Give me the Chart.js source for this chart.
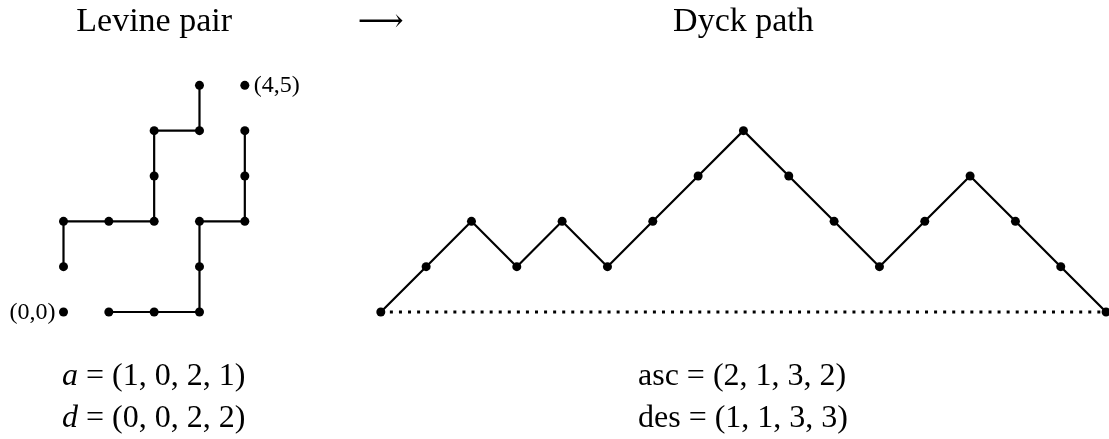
<!DOCTYPE html>
<html>
<head>
<meta charset="utf-8">
<script src="https://cdn.jsdelivr.net/npm/chart.js@4"></script>
<style>
  html, body { margin: 0; padding: 0; background: #fff; }
  #wrap { width: 1109px; height: 439px; }
  canvas { display: block; }
</style>
</head>
<body>
<div id="wrap"><canvas id="myChart" width="1109" height="439"></canvas></div>
<script>
// Levine pair: two lattice paths on a 4 x 5 grid
const pathAx = [0, 0, 1, 2, 2, 2, 3, 3];
const pathAy = [1, 2, 2, 2, 3, 4, 4, 5];
const pathBx = [1, 2, 3, 3, 3, 4, 4, 4];
const pathBy = [0, 0, 0, 1, 2, 2, 3, 4];
// corner points (0,0) and (4,5)
const cornerX = [0, 4];
const cornerY = [0, 5];
const cornerLabels = ["(0,0)", "(4,5)"];

// Dyck path heights, one per step (asc = 2,1,3,2 / des = 1,1,3,3)
const dyckHeights = [0, 1, 2, 1, 2, 1, 2, 3, 4, 3, 2, 1, 2, 3, 2, 1, 0];

const headings = ["Levine pair", "\u27F6", "Dyck path"];
const leftLines = [["a", " = (1, 0, 2, 1)"], ["d", " = (0, 0, 2, 2)"]];
const rightLines = ["asc = (2, 1, 3, 2)", "des = (1, 1, 3, 3)"];

// layout: one grid unit in pixels, and where (0,0) sits
const UNIT = 45.33;
const ORIGIN_X = 63.5;
const ORIGIN_Y = 312;
const DYCK_X0 = 7;

const pts = (xs, ys) => xs.map((x, i) => ({ x: x, y: ys[i] }));
const dyckPts = dyckHeights.map((h, i) => ({ x: DYCK_X0 + i, y: h }));

const lineStyle = {
  showLine: true,
  borderColor: "#000",
  backgroundColor: "#000",
  borderWidth: 2.2,
  pointRadius: 4.5,
  pointBorderWidth: 0,
  pointBackgroundColor: "#000",
  tension: 0,
};

const textPlugin = {
  id: "texts",
  afterDraw(chart) {
    const ctx = chart.ctx;
    const xs = chart.scales.x;
    const ys = chart.scales.y;
    ctx.save();
    ctx.fillStyle = "#000";
    ctx.textBaseline = "alphabetic";

    // headings
    ctx.font = '34px "Liberation Serif"';
    ctx.textAlign = "center";
    ctx.fillText(headings[0], xs.getPixelForValue(2), 31);
    ctx.fillText(headings[2], xs.getPixelForValue(DYCK_X0 + 8), 31);
    ctx.font = '32px "DejaVu Serif"';
    ctx.fillText(headings[1], xs.getPixelForValue(DYCK_X0), 31);

    // corner labels
    ctx.font = '24px "Liberation Serif"';
    ctx.textAlign = "right";
    ctx.fillText(cornerLabels[0], xs.getPixelForValue(cornerX[0]) - 8, ys.getPixelForValue(cornerY[0]) + 7);
    ctx.textAlign = "left";
    ctx.fillText(cornerLabels[1], xs.getPixelForValue(cornerX[1]) + 9, ys.getPixelForValue(cornerY[1]) + 7);

    // formulas under the two pictures
    const base = [385, 427];
    leftLines.forEach((parts, i) => {
      ctx.textAlign = "left";
      ctx.font = 'italic 32px "Liberation Serif"';
      ctx.fillText(parts[0], 62, base[i]);
      const w = ctx.measureText(parts[0]).width;
      ctx.font = '32px "Liberation Serif"';
      ctx.fillText(parts[1], 62 + w, base[i]);
    });
    rightLines.forEach((s, i) => {
      ctx.textAlign = "left";
      ctx.font = '32px "Liberation Serif"';
      ctx.fillText(s, 638, base[i]);
    });
    ctx.restore();
  },
};

const data = {
  datasets: [
    Object.assign({ label: "path A", data: pts(pathAx, pathAy) }, lineStyle),
    Object.assign({ label: "path B", data: pts(pathBx, pathBy) }, lineStyle),
    Object.assign({ label: "corners", data: pts(cornerX, cornerY) }, lineStyle, { showLine: false }),
    Object.assign({ label: "Dyck path", data: dyckPts }, lineStyle),
    {
      label: "baseline",
      data: [{ x: DYCK_X0, y: 0 }, { x: DYCK_X0 + dyckHeights.length - 1, y: 0 }],
      showLine: true,
      borderColor: "#000",
      borderWidth: 3,
      borderDash: [3, 6.07],
      borderCapStyle: "butt",
      pointRadius: 0,
    },
  ],
};

const config = {
  type: "scatter",
  data: data,
  options: {
    responsive: false,
    animation: false,
    layout: { padding: 0, autoPadding: false },
    plugins: { legend: { display: false }, tooltip: { enabled: false } },
    scales: {
      x: { type: "linear", display: false, min: -ORIGIN_X / UNIT, max: (1109 - ORIGIN_X) / UNIT },
      y: { type: "linear", display: false, min: -(439 - ORIGIN_Y) / UNIT, max: ORIGIN_Y / UNIT },
    },
  },
  plugins: [textPlugin],
};

let myChart = new Chart(document.getElementById("myChart"), config);
</script>
</body>
</html>
